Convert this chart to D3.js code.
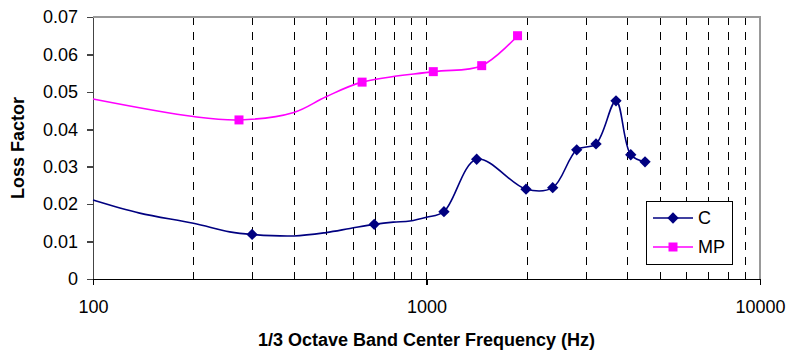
<!DOCTYPE html>
<html>
<head>
<meta charset="utf-8">
<style>
  body { margin: 0; background: #fff; }
  svg { font-family: "Liberation Sans", Arial, sans-serif; }
  .axis path, .axis line { fill: none; shape-rendering: crispEdges; }
  .axis text { font-size: 18px; fill: #000; }
  .grid line { stroke: #000; stroke-width: 1; stroke-dasharray: 8,7; shape-rendering: crispEdges; }
  .title { font-size: 18px; font-weight: bold; fill: #000; }
</style>
<script src="https://d3js.org/d3.v7.min.js"></script>
</head>
<body>
<script>

// C series: points with markers
var cFreq = [300, 697, 1128, 1414, 1988, 2390, 2821, 3223, 3700, 4097, 4521];
var cLoss = [0.0119, 0.0146, 0.0180, 0.0320, 0.0240, 0.0244, 0.0345, 0.0361, 0.0476, 0.0332, 0.0313];
// C curve points without markers
var cCurveFreq = [100, 138, 200, 257, 400, 500, 590, 795, 892, 1000];
var cCurveLoss = [0.0211, 0.0176, 0.0149, 0.0126, 0.0115, 0.0124, 0.0135, 0.0152, 0.0155, 0.0165];

// MP series
var mpFreq = [274, 641, 1048, 1464, 1875];
var mpLoss = [0.0425, 0.0526, 0.0554, 0.0570, 0.0650];
var mpCurveFreq = [100, 200, 400, 500];
var mpCurveLoss = [0.0481, 0.0434, 0.0445, 0.0487];

var yTicks = [0, 0.01, 0.02, 0.03, 0.04, 0.05, 0.06, 0.07];
var xTicks = [100, 1000, 10000];
var gridFreq = [200, 300, 400, 500, 600, 700, 800, 900, 1000,
                2000, 3000, 4000, 5000, 6000, 7000, 8000, 9000];

var W = 790, H = 353;
var margin = {top: 17, right: 30, bottom: 74, left: 93},
    width = W - margin.left - margin.right,
    height = H - margin.top - margin.bottom;

var svg = d3.select("body").append("svg")
    .attr("width", W)
    .attr("height", H);

var g = svg.append("g")
    .attr("transform", "translate(" + margin.left + "," + margin.top + ")");

var x = d3.scaleLog().domain([100, 10000]).range([0, width]);
var y = d3.scaleLinear().domain([0, 0.07]).range([height, 0]);

// dashed vertical grid
g.append("g").attr("class", "grid")
  .selectAll("line")
  .data(gridFreq)
  .enter().append("line")
    .attr("x1", function(d) { return Math.round(x(d)) + 0.5; })
    .attr("x2", function(d) { return Math.round(x(d)) + 0.5; })
    .attr("y1", 0)
    .attr("y2", height);

// top and right border
g.append("path")
    .attr("d", "M0,0H" + width + "V" + height)
    .attr("fill", "none")
    .attr("stroke", "#999")
    .attr("stroke-width", 2);

var yAxis = d3.axisLeft(y)
    .tickValues(yTicks)
    .tickSize(6)
    .tickSizeOuter(0)
    .tickPadding(9)
    .tickFormat(function(d) { return d === 0 ? "0" : d3.format(".2f")(d); });

var xAxis = d3.axisBottom(x)
    .tickValues(xTicks)
    .tickSize(6)
    .tickSizeOuter(0)
    .tickPadding(15)
    .tickFormat(d3.format("d"));

var gy = g.append("g").attr("class", "axis").call(yAxis);
gy.selectAll("path, line").attr("stroke", "#444").attr("stroke-width", 1.5);

var gx = g.append("g").attr("class", "axis")
    .attr("transform", "translate(0," + height + ")")
    .call(xAxis);
gx.selectAll("path, line").attr("stroke", "#000").attr("stroke-width", 1.5);

// series
function merge(f1, v1, f2, v2) {
    var pts = [];
    f1.forEach(function(f, i) { pts.push({f: f, v: v1[i]}); });
    f2.forEach(function(f, i) { pts.push({f: f, v: v2[i]}); });
    return pts.sort(function(a, b) { return a.f - b.f; });
}

var line = d3.line()
    .x(function(d) { return x(d.f); })
    .y(function(d) { return y(d.v); })
    .curve(d3.curveCatmullRom.alpha(0.5));

var series = [
    {name: "C", color: "#000080", freq: cFreq, loss: cLoss,
     curve: merge(cFreq, cLoss, cCurveFreq, cCurveLoss), diamond: true},
    {name: "MP", color: "#FF00FF", freq: mpFreq, loss: mpLoss,
     curve: merge(mpFreq, mpLoss, mpCurveFreq, mpCurveLoss), diamond: false}
];

var diamond = d3.symbol().type(d3.symbolSquare).size(64);
var square = d3.symbol().type(d3.symbolSquare).size(81);

series.forEach(function(s) {
    g.append("path")
        .datum(s.curve)
        .attr("d", line)
        .attr("fill", "none")
        .attr("stroke", s.color)
        .attr("stroke-width", 1.6);

    g.selectAll(null)
        .data(s.freq)
        .enter().append("path")
        .attr("d", s.diamond ? diamond : square)
        .attr("transform", function(d, i) {
            return "translate(" + x(d) + "," + y(s.loss[i]) + ")" + (s.diamond ? " rotate(45)" : "");
        })
        .attr("fill", s.color);
});

// legend
var legend = svg.append("g").attr("transform", "translate(646,201)");
legend.append("rect")
    .attr("x", 0.5).attr("y", 0.5)
    .attr("width", 86).attr("height", 63)
    .attr("fill", "#fff")
    .attr("stroke", "#000")
    .attr("stroke-width", 1);

series.forEach(function(s, i) {
    var ly = 17 + i * 29;
    legend.append("line")
        .attr("x1", 7).attr("x2", 47)
        .attr("y1", ly).attr("y2", ly)
        .attr("stroke", s.color)
        .attr("stroke-width", 1.6);
    legend.append("path")
        .attr("d", s.diamond ? diamond : square)
        .attr("transform", "translate(27," + ly + ")" + (s.diamond ? " rotate(45)" : ""))
        .attr("fill", s.color);
    legend.append("text")
        .attr("x", 52).attr("y", ly)
        .attr("dy", "0.35em")
        .style("font-size", "18px")
        .text(s.name);
});

// axis titles
svg.append("text")
    .attr("class", "title")
    .attr("transform", "translate(24," + (margin.top + height / 2) + ") rotate(-90)")
    .attr("text-anchor", "middle")
    .text("Loss Factor");

svg.append("text")
    .attr("class", "title")
    .attr("x", margin.left + width / 2)
    .attr("y", 346)
    .attr("text-anchor", "middle")
    .text("1/3 Octave Band Center Frequency (Hz)");

</script>
</body>
</html>
